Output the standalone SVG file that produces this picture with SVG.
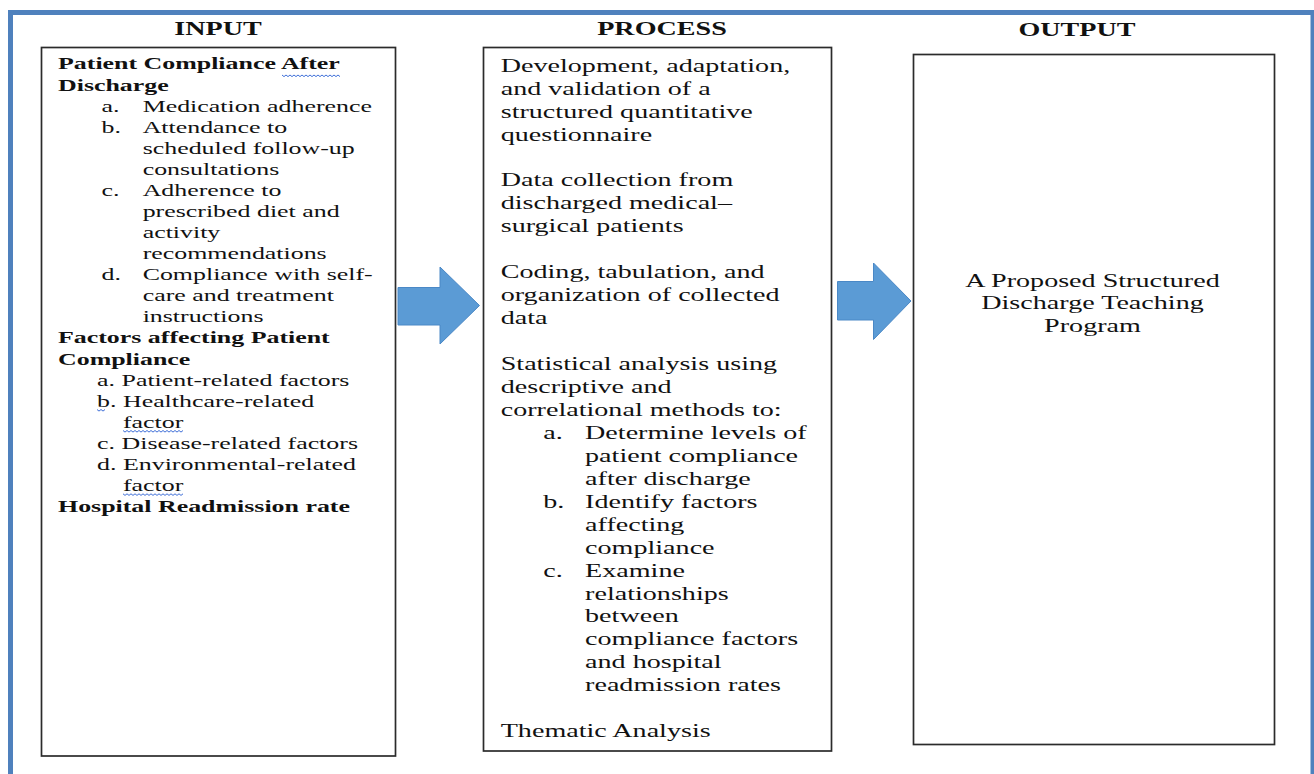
<svg xmlns="http://www.w3.org/2000/svg" width="1314" height="774" viewBox="0 0 1314 774">
  <style>
    .frame { fill: none; stroke: #4F81BD; stroke-width: 5; }
    .box { fill: #ffffff; stroke: #2b2b2b; stroke-width: 1.7; }
    .arrow { fill: #5B9BD5; stroke: #4A88C6; stroke-width: 1; }
    .t { font-family: "Liberation Serif", "Times New Roman", serif; fill: #111111; }
    .head { font-size: 19px; font-weight: bold; text-anchor: middle; }
    .in { font-size: 17.5px; }
    .pr { font-size: 19px; }
    .b { font-weight: bold; }
    .mid { text-anchor: middle; }
    .squiggle { fill: none; stroke: #3F6FD8; stroke-width: 1; }
  </style>

  <!-- outer blue frame -->
  <rect class="frame" x="10.5" y="12.5" width="1302.5" height="800"/>

  <!-- column headings -->
  <g id="headings">
    <text class="t head" transform="translate(218 35) scale(1.48 1)">INPUT</text>
    <text class="t head" transform="translate(662 35) scale(1.48 1)">PROCESS</text>
    <text class="t head" transform="translate(1077 35.5) scale(1.48 1)">OUTPUT</text>
  </g>

  <!-- INPUT node -->
  <g id="input">
    <rect class="box" x="41.5" y="47.5" width="354" height="708.5"/>
    <g class="t in" transform="translate(58 0) scale(1.48 1)">
      <text class="b" x="0" y="69.5">Patient Compliance After</text>
      <text class="b" x="0" y="90.6">Discharge</text>
      <text x="29.4" y="111.7">a.</text>
      <text x="57.2" y="111.7">Medication adherence</text>
      <text x="29.4" y="132.7">b.</text>
      <text x="57.2" y="132.7">Attendance to</text>
      <text x="57.2" y="153.8">scheduled follow-up</text>
      <text x="57.2" y="174.9">consultations</text>
      <text x="29.4" y="196.0">c.</text>
      <text x="57.2" y="196.0">Adherence to</text>
      <text x="57.2" y="217.1">prescribed diet and</text>
      <text x="57.2" y="238.1">activity</text>
      <text x="57.2" y="259.2">recommendations</text>
      <text x="29.4" y="280.3">d.</text>
      <text x="57.2" y="280.3">Compliance with self-</text>
      <text x="57.2" y="301.4">care and treatment</text>
      <text x="57.2" y="322.5">instructions</text>
      <text class="b" x="0" y="343.5">Factors affecting Patient</text>
      <text class="b" x="0" y="364.6">Compliance</text>
      <text x="26.4" y="385.7">a. Patient-related factors</text>
      <text x="26.4" y="406.8">b. Healthcare-related</text>
      <text x="43.9" y="427.9">factor</text>
      <text x="26.4" y="448.9">c. Disease-related factors</text>
      <text x="26.4" y="470.0">d. Environmental-related</text>
      <text x="43.9" y="491.1">factor</text>
      <text class="b" x="0" y="512.2">Hospital Readmission rate</text>
    </g>
    <!-- proofing underlines -->
    <path class="squiggle" d="M282 75 l2 1.6 l2 -1.6 l2 1.6 l2 -1.6 l2 1.6 l2 -1.6 l2 1.6 l2 -1.6 l2 1.6 l2 -1.6 l2 1.6 l2 -1.6 l2 1.6 l2 -1.6 l2 1.6 l2 -1.6 l2 1.6 l2 -1.6 l2 1.6 l2 -1.6 l2 1.6 l2 -1.6 l2 1.6 l2 -1.6 l2 1.6 l2 -1.6 l2 1.6 l2 -1.6 l2 1.6"/>
    <path class="squiggle" d="M97 409.5 l2 1.6 l2 -1.6 l2 1.6 l2 -1.6"/>
    <path class="squiggle" d="M123 430.5 l2 1.6 l2 -1.6 l2 1.6 l2 -1.6 l2 1.6 l2 -1.6 l2 1.6 l2 -1.6 l2 1.6 l2 -1.6 l2 1.6 l2 -1.6 l2 1.6 l2 -1.6 l2 1.6 l2 -1.6 l2 1.6 l2 -1.6 l2 1.6 l2 -1.6 l2 1.6 l2 -1.6 l2 1.6 l2 -1.6 l2 1.6 l2 -1.6 l2 1.6 l2 -1.6 l2 1.6 l2 -1.6"/>
    <path class="squiggle" d="M123 493.8 l2 1.6 l2 -1.6 l2 1.6 l2 -1.6 l2 1.6 l2 -1.6 l2 1.6 l2 -1.6 l2 1.6 l2 -1.6 l2 1.6 l2 -1.6 l2 1.6 l2 -1.6 l2 1.6 l2 -1.6 l2 1.6 l2 -1.6 l2 1.6 l2 -1.6 l2 1.6 l2 -1.6 l2 1.6 l2 -1.6 l2 1.6 l2 -1.6 l2 1.6 l2 -1.6 l2 1.6 l2 -1.6"/>
  </g>

  <!-- PROCESS node -->
  <g id="process">
    <rect class="box" x="483.5" y="47.5" width="348" height="703.5"/>
    <g class="t pr" transform="translate(500.7 0) scale(1.48 1)">
      <text x="0" y="71.7">Development, adaptation,</text>
      <text x="0" y="94.65">and validation of a</text>
      <text x="0" y="117.6">structured quantitative</text>
      <text x="0" y="140.55">questionnaire</text>
      <text x="0" y="186.45">Data collection from</text>
      <text x="0" y="209.4">discharged medical–</text>
      <text x="0" y="232.35">surgical patients</text>
      <text x="0" y="278.25">Coding, tabulation, and</text>
      <text x="0" y="301.2">organization of collected</text>
      <text x="0" y="324.15">data</text>
      <text x="0" y="370.05">Statistical analysis using</text>
      <text x="0" y="393">descriptive and</text>
      <text x="0" y="415.95">correlational methods to:</text>
      <text x="28.8" y="438.9">a.</text>
      <text x="57" y="438.9">Determine levels of</text>
      <text x="57" y="461.85">patient compliance</text>
      <text x="57" y="484.8">after discharge</text>
      <text x="28.8" y="507.75">b.</text>
      <text x="57" y="507.75">Identify factors</text>
      <text x="57" y="530.7">affecting</text>
      <text x="57" y="553.65">compliance</text>
      <text x="28.8" y="576.6">c.</text>
      <text x="57" y="576.6">Examine</text>
      <text x="57" y="599.55">relationships</text>
      <text x="57" y="622.5">between</text>
      <text x="57" y="645.45">compliance factors</text>
      <text x="57" y="668.4">and hospital</text>
      <text x="57" y="691.35">readmission rates</text>
      <text x="0" y="737.25">Thematic Analysis</text>
    </g>
  </g>

  <!-- OUTPUT node -->
  <g id="output">
    <rect class="box" x="913.5" y="54.5" width="361" height="690"/>
    <g class="t pr mid">
      <text transform="translate(1092.5 286.5) scale(1.48 1)">A Proposed Structured</text>
      <text transform="translate(1092.5 309.45) scale(1.48 1)">Discharge Teaching</text>
      <text transform="translate(1092.5 332.4) scale(1.48 1)">Program</text>
    </g>
  </g>

  <!-- block arrows between columns -->
  <g id="connectors">
    <polygon class="arrow" points="398,287.5 440,287.5 440,267 479.5,305.5 440,344 440,325 398,325"/>
    <polygon class="arrow" points="837.5,281.5 873.5,281.5 873.5,263 911,301 873.5,339.5 873.5,320 837.5,320"/>
  </g>
</svg>
